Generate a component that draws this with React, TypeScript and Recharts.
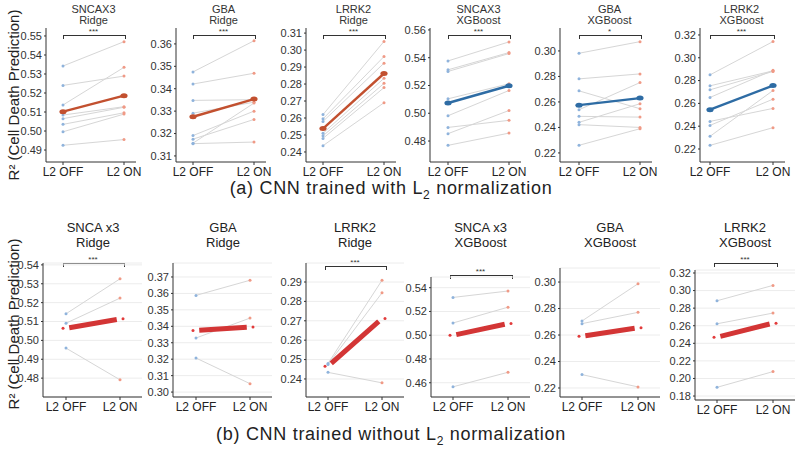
import { CartesianGrid, Line, LineChart, XAxis, YAxis } from "recharts";

const FONT = "'Liberation Sans', Arial, Helvetica, sans-serif";

const OFF_BLUE = "#8fb3dc";
const ON_RED = "#f09a86";
const PAIR_GRAY = "#d6d6d6";

// (a) CNN trained with L2 normalization
const aSncaRidgeOff = [0.5342, 0.524, 0.5137, 0.5084, 0.5065, 0.5035, 0.4996, 0.4925];
const aSncaRidgeOn = [0.547, 0.5289, 0.5335, 0.5128, 0.5125, 0.5096, 0.5089, 0.4955];
const aSncaRidgeMean = [0.5102, 0.5186];
const aSncaRidgeTicks = [0.49, 0.5, 0.51, 0.52, 0.53, 0.54, 0.55];

const aGbaRidgeOff = [0.3475, 0.3421, 0.3348, 0.3291, 0.3191, 0.3175, 0.3157, 0.3155];
const aGbaRidgeOn = [0.3614, 0.3469, 0.3351, 0.334, 0.33, 0.3263, 0.3336, 0.3162];
const aGbaRidgeMean = [0.3275, 0.3354];
const aGbaRidgeTicks = [0.31, 0.32, 0.33, 0.34, 0.35, 0.36];

const aLrrkRidgeOff = [0.262, 0.2595, 0.258, 0.254, 0.251, 0.2495, 0.248, 0.2437];
const aLrrkRidgeOn = [0.3051, 0.2962, 0.2923, 0.286, 0.2834, 0.2804, 0.2779, 0.269];
const aLrrkRidgeMean = [0.2538, 0.2862];
const aLrrkRidgeTicks = [0.24, 0.25, 0.26, 0.27, 0.28, 0.29, 0.3, 0.31];

const aSncaXgbOff = [0.5377, 0.5313, 0.5301, 0.5104, 0.4982, 0.4898, 0.4853, 0.4769];
const aSncaXgbOn = [0.5514, 0.5437, 0.543, 0.5212, 0.5164, 0.4949, 0.502, 0.4857];
const aSncaXgbMean = [0.5074, 0.5198];
const aSncaXgbTicks = [0.48, 0.5, 0.52, 0.54, 0.56];

const aGbaXgbOff = [0.2982, 0.2781, 0.2687, 0.2539, 0.2487, 0.244, 0.2422, 0.226];
const aGbaXgbOn = [0.3073, 0.282, 0.2547, 0.2752, 0.2481, 0.2586, 0.24, 0.239];
const aGbaXgbMean = [0.2575, 0.263];
const aGbaXgbTicks = [0.22, 0.24, 0.26, 0.28, 0.3];

const aLrrkXgbOff = [0.285, 0.2754, 0.2719, 0.2652, 0.2442, 0.2407, 0.2311, 0.2232];
const aLrrkXgbOn = [0.3142, 0.2885, 0.288, 0.289, 0.2556, 0.2637, 0.2713, 0.2387];
const aLrrkXgbMean = [0.2545, 0.2756];
const aLrrkXgbTicks = [0.22, 0.24, 0.26, 0.28, 0.3, 0.32];

// (b) CNN trained without L2 normalization
const bSncaRidgeOff = [0.5141, 0.5091, 0.4959];
const bSncaRidgeOn = [0.5326, 0.5224, 0.4791];
const bSncaRidgeMean = [0.5064, 0.5114];
const bSncaRidgeTicks = [0.48, 0.49, 0.5, 0.51, 0.52, 0.53, 0.54];

const bGbaRidgeOff = [0.3588, 0.3329, 0.3207];
const bGbaRidgeOn = [0.368, 0.345, 0.3051];
const bGbaRidgeMean = [0.3375, 0.3396];
const bGbaRidgeTicks = [0.3, 0.31, 0.32, 0.33, 0.34, 0.35, 0.36, 0.37];

const bLrrkRidgeOff = [0.248, 0.2475, 0.2434];
const bLrrkRidgeOn = [0.2909, 0.2844, 0.238];
const bLrrkRidgeMean = [0.2465, 0.2712];
const bLrrkRidgeTicks = [0.24, 0.25, 0.26, 0.27, 0.28, 0.29];

const bSncaXgbOff = [0.5318, 0.5103, 0.4566];
const bSncaXgbOn = [0.5372, 0.5236, 0.4688];
const bSncaXgbMean = [0.4999, 0.5098];
const bSncaXgbTicks = [0.46, 0.48, 0.5, 0.52, 0.54];

const bGbaXgbOff = [0.2706, 0.2686, 0.2301];
const bGbaXgbOn = [0.2987, 0.2771, 0.2208];
const bGbaXgbMean = [0.259, 0.2655];
const bGbaXgbTicks = [0.22, 0.24, 0.26, 0.28, 0.3];

const bLrrkXgbOff = [0.2884, 0.2622, 0.1899];
const bLrrkXgbOn = [0.3059, 0.2744, 0.2078];
const bLrrkXgbMean = [0.247, 0.2629];
const bLrrkXgbTicks = [0.18, 0.2, 0.22, 0.24, 0.26, 0.28, 0.3, 0.32];

type PanelSpec = {
  axisX: number;
  offX: number;
  onX: number;
  right: number;
  top: number;
  bottom: number;
  domain: [number, number];
  ticks: number[];
  off: number[];
  on: number[];
  mean: number[];
  meanColor: string;
  title: string[];
  sig?: string;
  bracketY?: number;
  row: "a" | "b";
};

const RIDGE_MEAN = "#c2502f";
const XGB_MEAN = "#2e6ca4";
const B_MEAN = "#d33535";

const panels: PanelSpec[] = [
  { row: "a", axisX: 46, offX: 63, onX: 124, right: 136, top: 28, bottom: 162, domain: [0.4837, 0.5542], ticks: aSncaRidgeTicks, off: aSncaRidgeOff, on: aSncaRidgeOn, mean: aSncaRidgeMean, meanColor: RIDGE_MEAN, title: ["SNCAX3", "Ridge"], sig: "***", bracketY: 35 },
  { row: "a", axisX: 176, offX: 193, onX: 254, right: 266, top: 28, bottom: 162, domain: [0.3073, 0.3671], ticks: aGbaRidgeTicks, off: aGbaRidgeOff, on: aGbaRidgeOn, mean: aGbaRidgeMean, meanColor: RIDGE_MEAN, title: ["GBA", "Ridge"], sig: "***", bracketY: 35 },
  { row: "a", axisX: 306, offX: 323, onX: 384, right: 396, top: 28, bottom: 162, domain: [0.2341, 0.313], ticks: aLrrkRidgeTicks, off: aLrrkRidgeOff, on: aLrrkRidgeOn, mean: aLrrkRidgeMean, meanColor: RIDGE_MEAN, title: ["LRRK2", "Ridge"], sig: "***", bracketY: 35 },
  { row: "a", axisX: 430, offX: 448, onX: 509, right: 521, top: 28, bottom: 162, domain: [0.4649, 0.5614], ticks: aSncaXgbTicks, off: aSncaXgbOff, on: aSncaXgbOn, mean: aSncaXgbMean, meanColor: XGB_MEAN, title: ["SNCAX3", "XGBoost"], sig: "***", bracketY: 35 },
  { row: "a", axisX: 560, offX: 579, onX: 640, right: 652, top: 28, bottom: 162, domain: [0.2129, 0.318], ticks: aGbaXgbTicks, off: aGbaXgbOff, on: aGbaXgbOn, mean: aGbaXgbMean, meanColor: XGB_MEAN, title: ["GBA", "XGBoost"], sig: "*", bracketY: 35 },
  { row: "a", axisX: 700, offX: 710, onX: 773, right: 785, top: 28, bottom: 162, domain: [0.2086, 0.3261], ticks: aLrrkXgbTicks, off: aLrrkXgbOff, on: aLrrkXgbOn, mean: aLrrkXgbMean, meanColor: XGB_MEAN, title: ["LRRK2", "XGBoost"], sig: "***", bracketY: 35 },

  { row: "b", axisX: 43, offX: 66, onX: 120, right: 142, top: 263, bottom: 397, domain: [0.47, 0.541], ticks: bSncaRidgeTicks, off: bSncaRidgeOff, on: bSncaRidgeOn, mean: bSncaRidgeMean, meanColor: B_MEAN, title: ["SNCA x3", "Ridge"], sig: "***", bracketY: 263 },
  { row: "b", axisX: 173, offX: 196, onX: 250, right: 272, top: 263, bottom: 397, domain: [0.297, 0.3785], ticks: bGbaRidgeTicks, off: bGbaRidgeOff, on: bGbaRidgeOn, mean: bGbaRidgeMean, meanColor: B_MEAN, title: ["GBA", "Ridge"] },
  { row: "b", axisX: 306, offX: 328, onX: 382, right: 404, top: 263, bottom: 397, domain: [0.2307, 0.2998], ticks: bLrrkRidgeTicks, off: bLrrkRidgeOff, on: bLrrkRidgeOn, mean: bLrrkRidgeMean, meanColor: B_MEAN, title: ["LRRK2", "Ridge"], sig: "***", bracketY: 266 },
  { row: "b", axisX: 431, offX: 453, onX: 508, right: 530, top: 277, bottom: 397, domain: [0.448, 0.549], ticks: bSncaXgbTicks, off: bSncaXgbOff, on: bSncaXgbOn, mean: bSncaXgbMean, meanColor: B_MEAN, title: ["SNCA x3", "XGBoost"], sig: "***", bracketY: 275 },
  { row: "b", axisX: 560, offX: 582, onX: 638, right: 660, top: 268, bottom: 397, domain: [0.2132, 0.3106], ticks: bGbaXgbTicks, off: bGbaXgbOff, on: bGbaXgbOn, mean: bGbaXgbMean, meanColor: B_MEAN, title: ["GBA", "XGBoost"] },
  { row: "b", axisX: 695, offX: 717, onX: 773, right: 795, top: 270, bottom: 400, domain: [0.1755, 0.3234], ticks: bLrrkXgbTicks, off: bLrrkXgbOff, on: bLrrkXgbOn, mean: bLrrkXgbMean, meanColor: B_MEAN, title: ["LRRK2", "XGBoost"], sig: "***", bracketY: 263 },
];

const Y_W = 42;
const X_H = 24;
const PAD_T = 4;
const PAD_R = 14;

function Panel({ p }: { p: PanelSpec }) {
  const unit = p.onX - p.offX;
  const xDomain: [number, number] = [-(p.offX - p.axisX) / unit, 1 + (p.right - p.onX) / unit];
  const width = Y_W + (p.right - p.axisX) + PAD_R;
  const height = PAD_T + (p.bottom - p.top) + X_H;
  const isA = p.row === "a";

  const rows = [0, 1].map((x) => {
    const row: Record<string, number> = { x, mean: p.mean[x] };
    const vals = x === 0 ? p.off : p.on;
    vals.forEach((v, i) => {
      row[`p${i}`] = v;
    });
    return row;
  });

  const pairDot = (props: any) => {
    const { cx, cy, index, key } = props;
    if (cx == null || cy == null) return <g key={key} />;
    return <circle key={key ?? `d${index}`} cx={cx} cy={cy} r={1.5} fill={index === 0 ? OFF_BLUE : ON_RED} />;
  };

  const meanDot = (props: any) => {
    const { cx, cy, index, key } = props;
    if (cx == null || cy == null) return <g key={key} />;
    if (isA) {
      return <ellipse key={key ?? `m${index}`} cx={cx} cy={cy} rx={3.6} ry={2.5} fill={p.meanColor} />;
    }
    return <circle key={key ?? `m${index}`} cx={index === 0 ? cx - 3 : cx + 3} cy={cy} r={1.5} fill="#e23b3b" />;
  };

  const titleTop = isA ? 4 : 220;
  const titleLine = isA ? 10.5 : 15;
  const titleSize = isA ? 11 : 13;
  const centerX = (p.offX + p.onX) / 2;

  return (
    <>
      {p.title.map((t, i) => (
        <div
          key={t + i}
          style={{
            position: "absolute",
            left: centerX - 50,
            width: 100,
            top: titleTop + i * titleLine,
            textAlign: "center",
            fontSize: titleSize,
            lineHeight: `${titleLine}px`,
            color: isA ? "#333" : "#222",
          }}
        >
          {t}
        </div>
      ))}
      {p.sig && p.bracketY != null && (
        <>
          <div
            style={{
              position: "absolute",
              left: p.offX - (isA ? 0 : 3),
              width: p.onX - p.offX + (isA ? 0 : 6),
              top: p.bracketY,
              height: 3,
              borderTop: "1px solid #333",
              borderLeft: "1px solid #333",
              borderRight: "1px solid #333",
            }}
          />
          <div
            style={{
              position: "absolute",
              left: centerX - 20,
              width: 40,
              top: p.bracketY - 7,
              textAlign: "center",
              fontSize: 8,
              lineHeight: "7px",
              color: "#333",
            }}
          >
            {p.sig}
          </div>
        </>
      )}
      <div style={{ position: "absolute", left: p.axisX - Y_W, top: p.top - PAD_T }}>
        <LineChart width={width} height={height} data={rows} margin={{ top: PAD_T, right: PAD_R, bottom: 0, left: 0 }}>
          {!isA && <CartesianGrid horizontal vertical={false} stroke="#ececec" strokeWidth={1} />}
          <XAxis
            dataKey="x"
            type="number"
            domain={xDomain}
            allowDataOverflow
            ticks={[0, 1]}
            interval={0}
            tickFormatter={(v) => (v === 0 ? "L2 OFF" : "L2 ON")}
            tick={{ fill: "#222", fontSize: 12, fontFamily: FONT }}
            tickLine={{ stroke: "#333" }}
            tickSize={3}
            axisLine={{ stroke: "#333", strokeWidth: 1 }}
            height={X_H}
          />
          <YAxis
            type="number"
            domain={p.domain}
            allowDataOverflow
            ticks={p.ticks}
            interval={0}
            tickFormatter={(v) => Number(v).toFixed(2)}
            tick={{ fill: "#333", fontSize: 11, fontFamily: FONT }}
            tickLine={{ stroke: "#333" }}
            tickSize={2}
            axisLine={{ stroke: "#333", strokeWidth: 1 }}
            width={Y_W}
          />
          {p.off.map((_, i) => (
            <Line
              key={`p${i}`}
              dataKey={`p${i}`}
              stroke={PAIR_GRAY}
              strokeWidth={1}
              dot={pairDot}
              activeDot={false}
              isAnimationActive={false}
              type="linear"
            />
          ))}
          <Line
            dataKey="mean"
            stroke={p.meanColor}
            strokeWidth={isA ? 2.4 : 5}
            dot={meanDot}
            activeDot={false}
            isAnimationActive={false}
            type="linear"
            {...(isA ? {} : { pathLength: 100, strokeDasharray: "0 6 88 100" })}
          />
        </LineChart>
      </div>
    </>
  );
}

function YTitle({ cy }: { cy: number }) {
  return (
    <div
      style={{
        position: "absolute",
        left: 14 - 100,
        top: cy - 10,
        width: 200,
        height: 20,
        lineHeight: "20px",
        textAlign: "center",
        fontSize: 15,
        color: "#222",
        transform: "rotate(-90deg)",
        whiteSpace: "nowrap",
      }}
    >
      R² (Cell Death Prediction)
    </div>
  );
}

const captionStyle = {
  position: "absolute" as const,
  left: 0,
  width: 782,
  textAlign: "center" as const,
  fontSize: 18,
  letterSpacing: 0.7,
  color: "#222",
  whiteSpace: "nowrap" as const,
};

export default function App() {
  return (
    <div
      style={{
        position: "absolute",
        left: 0,
        top: 0,
        width: 799,
        height: 455,
        background: "#fff",
        fontFamily: FONT,
        overflow: "hidden",
      }}
    >
      <YTitle cy={95} />
      <YTitle cy={324} />
      {panels.map((p, i) => (
        <Panel key={i} p={p} />
      ))}
      <div style={{ ...captionStyle, top: 178 }}>
        (a) CNN trained with L<sub style={{ fontSize: 12 }}>2</sub> normalization
      </div>
      <div style={{ ...captionStyle, top: 424 }}>
        (b) CNN trained without L<sub style={{ fontSize: 12 }}>2</sub> normalization
      </div>
    </div>
  );
}
